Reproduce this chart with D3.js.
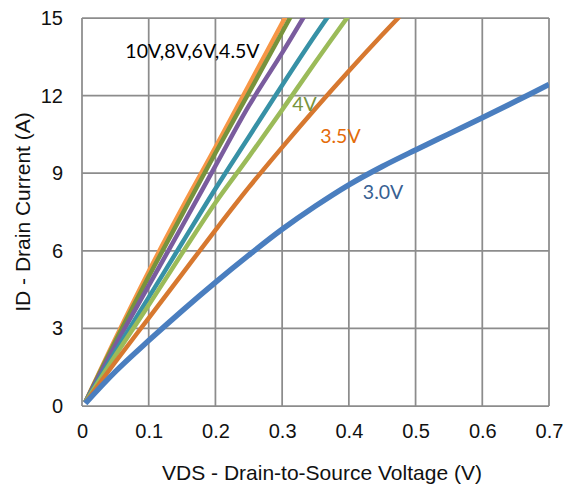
<!DOCTYPE html>
<html>
<head>
<meta charset="utf-8">
<script src="https://cdn.jsdelivr.net/npm/d3@7"></script>
<style>
  body { margin: 0; background: #fff; }
  svg { display: block; }
</style>
</head>
<body>
<div id="chart"></div>
<script>
  // Drain voltage points (V) and drain current (A) per gate voltage curve
  var vds = [0.005, 0.05, 0.1, 0.15, 0.2, 0.25, 0.3, 0.35, 0.4, 0.45, 0.5, 0.55, 0.6, 0.65, 0.7];

  var id10V  = [0.15, 2.6, 5.2, 7.65, 10.0, 12.4, 14.8, 17.2];
  var id8V   = [0.15, 2.5, 5.0, 7.4, 9.78, 12.1, 14.45, 16.8];
  var id6V   = [0.15, 2.35, 4.65, 6.95, 9.28, 11.6, 13.65, 15.8];
  var id45V  = [0.15, 2.1, 4.2, 6.3, 8.4, 10.4, 12.4, 14.35, 16.2];
  var id4V   = [0.15, 1.95, 3.9, 5.9, 7.86, 9.63, 11.45, 13.3, 15.1];
  var id35V  = [0.12, 1.7, 3.4, 5.1, 6.8, 8.45, 10.0, 11.5, 12.95, 14.35, 15.7];
  var id30V  = [0.1, 1.33, 2.53, 3.68, 4.78, 5.83, 6.83, 7.73, 8.55, 9.26, 9.9, 10.52, 11.14, 11.78, 12.43];

  var xTicks = [0, 0.1, 0.2, 0.3, 0.4, 0.5, 0.6, 0.7];
  var yTicks = [0, 3, 6, 9, 12, 15];

  var series = [
    {name: "10V",  values: id10V, color: "#F79646"},
    {name: "8V",   values: id8V,  color: "#77933C"},
    {name: "6V",   values: id6V,  color: "#7A5C9E"},
    {name: "4.5V", values: id45V, color: "#3791A6"},
    {name: "4V",   values: id4V,  color: "#9BBB59"},
    {name: "3.5V", values: id35V, color: "#D7782F"},
    {name: "3.0V", values: id30V, color: "#4A7EBF"}
  ];

  // labels sit inside the plot, in data units
  var labels = [
    {text: "10V,8V,6V,4.5V", v: 0.065, i: 13.45, color: "#000000"},
    {text: "4V",             v: 0.315, i: 11.4,  color: "#77933C"},
    {text: "3.5V",           v: 0.357, i: 10.17, color: "#E46C0A"},
    {text: "3.0V",           v: 0.421, i: 8.0,   color: "#376092"}
  ];

  var width = 565, height = 489;
  var plotLeft = 82, plotRight = 549, plotTop = 18, plotBottom = 406;

  var svg = d3.select('#chart')
      .append('svg')
      .attr('width', width)
      .attr('height', height);

  var x = d3.scaleLinear().domain([0, 0.7]).range([plotLeft, plotRight]);
  var y = d3.scaleLinear().domain([0, 15]).range([plotBottom, plotTop]);

  // grid
  var grid = svg.append('g')
      .attr('stroke', '#8c8c8c')
      .attr('stroke-width', 1.75);
  grid.selectAll('line.v')
      .data(xTicks)
      .enter().append('line')
      .attr('x1', function(d){ return x(d); })
      .attr('x2', function(d){ return x(d); })
      .attr('y1', y(15))
      .attr('y2', y(0));
  grid.selectAll('line.h')
      .data(yTicks)
      .enter().append('line')
      .attr('x1', x(0))
      .attr('x2', x(0.7))
      .attr('y1', function(d){ return y(d); })
      .attr('y2', function(d){ return y(d); });

  // axes (labels only, lines come from grid)
  var xAxis = svg.append('g')
      .attr('transform', 'translate(0,' + plotBottom + ')')
      .call(d3.axisBottom(x).tickValues(xTicks).tickSize(0).tickPadding(18)
        .tickFormat(function(d){ return d === 0 ? "0" : d3.format(".1f")(d); }));
  var yAxis = svg.append('g')
      .attr('transform', 'translate(' + plotLeft + ',0)')
      .call(d3.axisLeft(y).tickValues(yTicks).tickSize(0).tickPadding(19));
  [xAxis, yAxis].forEach(function(a){
    a.select('.domain').remove();
    a.selectAll('text')
      .attr('font-family', 'Liberation Sans, Arial, sans-serif')
      .attr('font-size', 20)
      .attr('fill', '#111');
  });

  // clip curves to the plot area
  svg.append('clipPath').attr('id', 'plot')
    .append('rect')
    .attr('x', plotLeft).attr('y', plotTop)
    .attr('width', plotRight - plotLeft).attr('height', plotBottom - plotTop);

  var line = d3.line()
      .x(function(d, k){ return x(vds[k]); })
      .y(function(d){ return y(d); })
      .curve(d3.curveCatmullRom);

  svg.append('g')
      .attr('clip-path', 'url(#plot)')
      .selectAll('path')
      .data(series)
      .enter().append('path')
      .attr('d', function(s){ return line(s.values); })
      .attr('fill', 'none')
      .attr('stroke', function(s){ return s.color; })
      .attr('stroke-width', function(s){ return s.name === "3.0V" ? 5.5 : 4.5; })
      .attr('stroke-linejoin', 'round');

  svg.selectAll('text.lbl')
      .data(labels)
      .enter().append('text')
      .attr('class', 'lbl')
      .attr('x', function(d){ return x(d.v); })
      .attr('y', function(d){ return y(d.i); })
      .attr('font-family', 'Lato, sans-serif')
      .attr('font-size', 19.5)
      .attr('fill', function(d){ return d.color; })
      .text(function(d){ return d.text; });

  // axis titles
  svg.append('text')
      .attr('x', 322)
      .attr('y', 480)
      .attr('text-anchor', 'middle')
      .attr('font-family', 'Liberation Sans, Arial, sans-serif')
      .attr('font-size', 21)
      .attr('fill', '#111')
      .text('VDS - Drain-to-Source Voltage (V)');

  svg.append('text')
      .attr('transform', 'translate(30,212) rotate(-90)')
      .attr('text-anchor', 'middle')
      .attr('font-family', 'Liberation Sans, Arial, sans-serif')
      .attr('font-size', 21)
      .attr('fill', '#111')
      .text('ID - Drain Current (A)');
</script>
</body>
</html>
